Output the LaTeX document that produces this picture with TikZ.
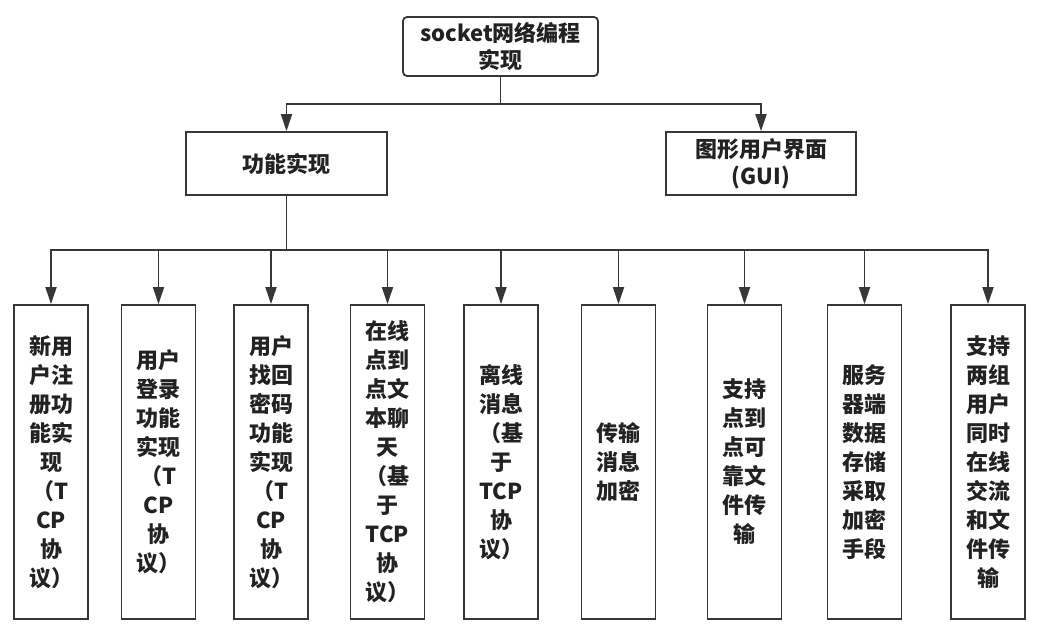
\documentclass[tikz,border=0pt]{standalone}
\usepackage{fontspec}
\setmainfont{Noto Sans CJK SC}
\usetikzlibrary{arrows.meta}

\definecolor{linegray}{RGB}{55,55,55}
\definecolor{textgray}{RGB}{34,34,34}
\tikzset{
  box/.style={draw=linegray, line width=1.8pt, fill=white, align=center,
    text=textgray, inner sep=0pt, font=\bfseries\fontsize{22}{29}\selectfont},
  topbox/.style={box, rounded corners=4pt, minimum width=195, minimum height=59,
    font=\bfseries\fontsize{22}{27}\selectfont},
  midbox/.style={box, minimum height=63, font=\bfseries\fontsize{22}{27}\selectfont},
  leafbox/.style={box, minimum width=74, minimum height=314},
  arr/.style={draw=linegray, line width=1.8pt, -{Triangle[length=17pt,width=11pt]}}
}

\begin{document}
\begin{tikzpicture}[x=1pt,y=-1pt]
  \useasboundingbox (0,0) rectangle (1053,640);

  % Top levels
  \node[topbox] (root) at (500.5,46.5) {socket网络编程\\实现};
  \node[midbox, minimum width=201] (func) at (286.5,163.5) {功能实现};
  \node[midbox, minimum width=190] (gui) at (761,163.5) {图形用户界面\\(GUI)};

  \coordinate (split) at (500.5,104);
  \draw[arr] (root.south) -- (split) -| (func.north);
  \draw[arr] (root.south) -- (split) -| (gui.north);

  % Functions
  \coordinate (bus) at (286.5,250);
  \foreach \name/\xpos/\txt in {
      reg/51/{新用\\户注\\册功\\能实\\现\\（T\\CP\\协\\议）},
      login/158.5/{用户\\登录\\功能\\实现\\（T\\CP\\协\\议）},
      findpw/271/{用户\\找回\\密码\\功能\\实现\\（T\\CP\\协\\议）},
      chat/387.5/{在线\\点到\\点文\\本聊\\天\\（基\\于\\TCP\\协\\议）},
      offline/501/{离线\\消息\\（基\\于\\TCP\\协\\议）},
      encrypt/618.5/{传输\\消息\\加密},
      file/744.5/{支持\\点到\\点可\\靠文\\件传\\输},
      store/864.5/{服务\\器端\\数据\\存储\\采取\\加密\\手段},
      group/988/{支持\\两组\\用户\\同时\\在线\\交流\\和文\\件传\\输}} {
    \node[leafbox] (\name) at (\xpos,462) {\txt};
    \draw[arr] (func.south) -- (bus) -| (\name.north);
  }
\end{tikzpicture}
\end{document}
